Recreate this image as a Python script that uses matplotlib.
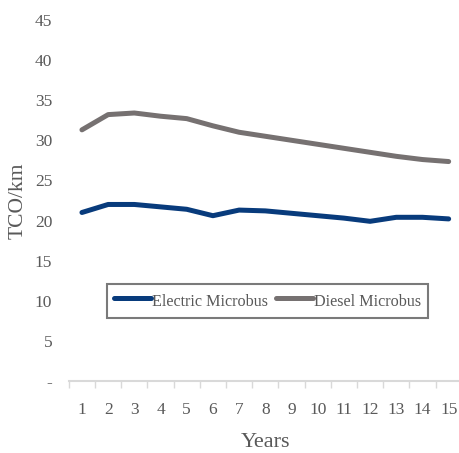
"""TCO par km sur 15 ans : microbus électrique vs diesel."""
import matplotlib
matplotlib.use("Agg")
import matplotlib.pyplot as plt
import numpy as np

years = list(range(1, 16))
electric = [21.0, 22.0, 22.0, 21.7, 21.4, 20.6, 21.3, 21.2, 20.9, 20.6, 20.3, 19.9, 20.4, 20.4, 20.2]
diesel = [31.3, 33.2, 33.4, 33.0, 32.7, 31.8, 31.0, 30.5, 30.0, 29.5, 29.0, 28.5, 28.0, 27.6, 27.35]
yticks = [0, 5, 10, 15, 20, 25, 30, 35, 40, 45]
ytick_labels = ["-", "5", "10", "15", "20", "25", "30", "35", "40", "45"]

GREY_TXT = "#595959"
plt.rcParams["font.family"] = ["Liberation Serif", "DejaVu Serif"]

fig = plt.figure(figsize=(4.59, 4.53), dpi=100)
ax = fig.add_axes([0.150, 0.159, 0.856, 0.797])

ax.plot(years, electric, color="#083b7c", lw=3.6, solid_capstyle="round",
        solid_joinstyle="round", label="Electric Microbus")
ax.plot(years, diesel, color="#767171", lw=3.6, solid_capstyle="round",
        solid_joinstyle="round", label="Diesel Microbus")

ax.set_xlim(0.5, 15.5)
ax.set_ylim(0, 45)
ax.set_yticks(yticks)
ax.set_yticklabels(ytick_labels)
ax.set_xticks(years)
ax.set_xticks(np.arange(0.5, 16.0, 1.0), minor=True)

ax.tick_params(axis="x", which="major", length=0, pad=15, labelsize=12.5, labelcolor=GREY_TXT)
ax.tick_params(axis="x", which="minor", length=5, width=1, color="#d9d9d9", direction="out")
ax.tick_params(axis="y", length=0, pad=12, labelsize=12.5, labelcolor=GREY_TXT)

for side in ("top", "right", "left"):
    ax.spines[side].set_visible(False)
ax.spines["bottom"].set_color("#d9d9d9")
ax.spines["bottom"].set_linewidth(1.5)

ax.set_xlabel("Years", fontsize=16, color=GREY_TXT, labelpad=11)
ax.set_ylabel("TCO/km", fontsize=15.5, color=GREY_TXT, labelpad=5)

leg = ax.legend(loc="center", bbox_to_anchor=(0.506, 0.222), ncol=2, fontsize=11.6,
                frameon=True, fancybox=False, handlelength=2.3, handletextpad=0.1,
                handleheight=1.6, columnspacing=0.45, borderpad=0.4, borderaxespad=0)
leg.get_frame().set_edgecolor(GREY_TXT)
leg.get_frame().set_linewidth(1.5)
for t in leg.get_texts():
    t.set_color(GREY_TXT)

fig.savefig("out.png", dpi=100)
